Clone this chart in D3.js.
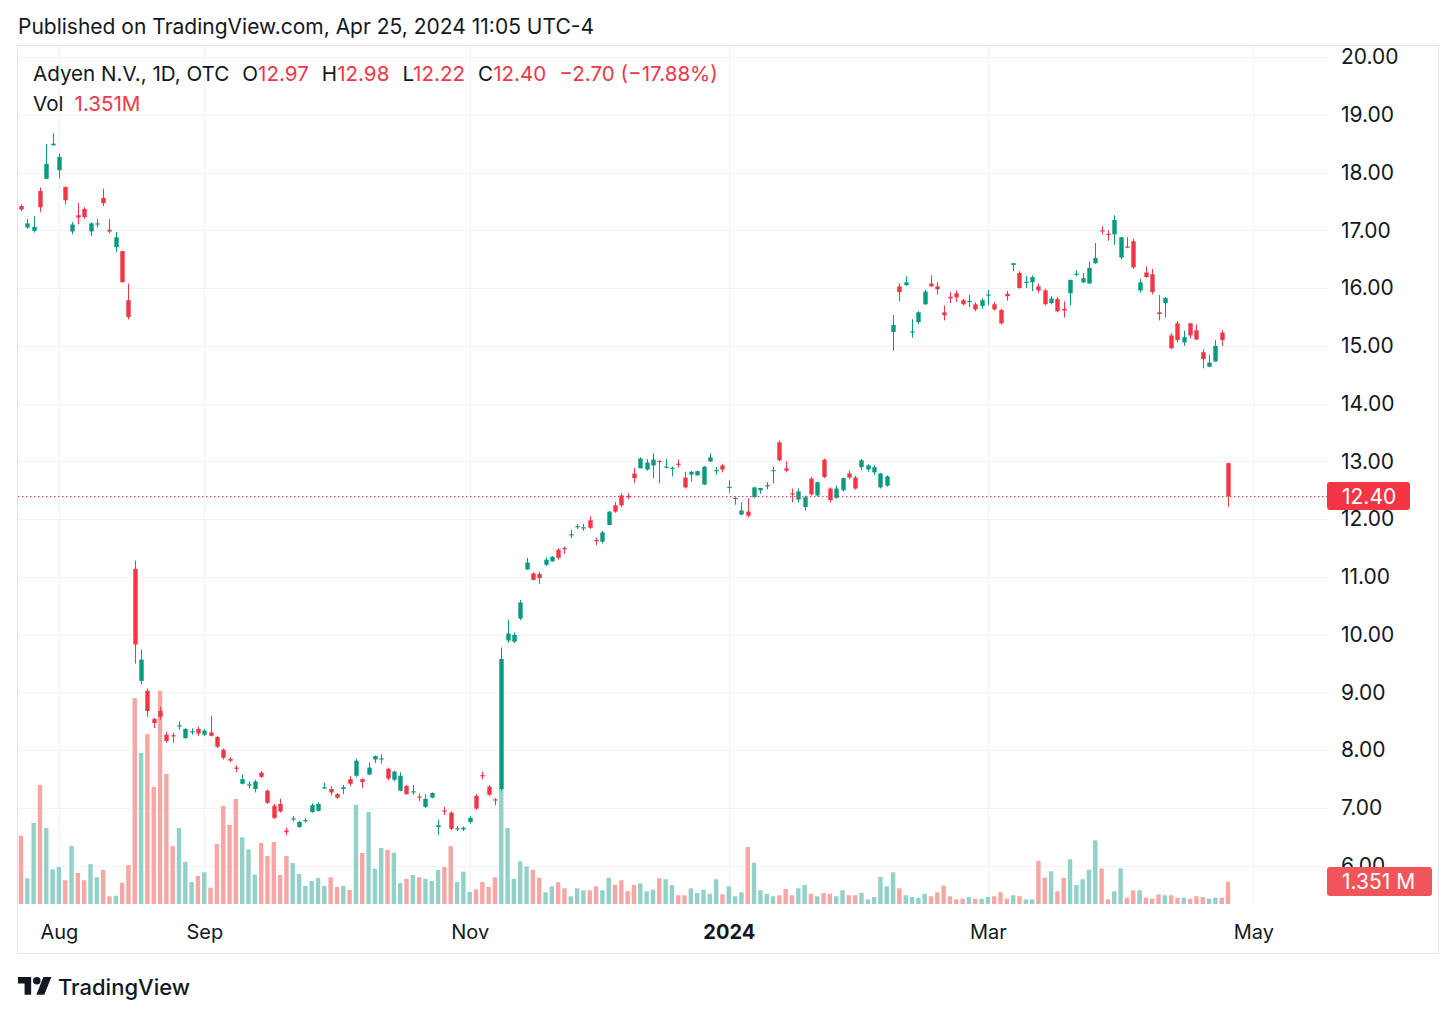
<!DOCTYPE html>
<html><head><meta charset="utf-8">
<script src="https://cdn.jsdelivr.net/npm/d3@7"></script>
<style>
body{margin:0;background:#fff}
svg{display:block}
text{font-family:Inter,"Noto Sans",Roboto,sans-serif}
</style>
</head><body>
<svg id="c" width="1456" height="1016"></svg>
<script>
// ---------- DATA ----------
const dates = [
"2023-07-24","2023-07-25","2023-07-26","2023-07-27","2023-07-28","2023-07-31",
"2023-08-01","2023-08-02","2023-08-03","2023-08-04","2023-08-07","2023-08-08","2023-08-09","2023-08-10","2023-08-11","2023-08-14","2023-08-15","2023-08-16","2023-08-17","2023-08-18","2023-08-21","2023-08-22","2023-08-23","2023-08-24","2023-08-25","2023-08-28","2023-08-29","2023-08-30","2023-08-31",
"2023-09-01","2023-09-05","2023-09-06","2023-09-07","2023-09-08","2023-09-11","2023-09-12","2023-09-13","2023-09-14","2023-09-15","2023-09-18","2023-09-19","2023-09-20","2023-09-21","2023-09-22","2023-09-25","2023-09-26","2023-09-27","2023-09-28","2023-09-29",
"2023-10-02","2023-10-03","2023-10-04","2023-10-05","2023-10-06","2023-10-09","2023-10-10","2023-10-11","2023-10-12","2023-10-13","2023-10-16","2023-10-17","2023-10-18","2023-10-19","2023-10-20","2023-10-23","2023-10-24","2023-10-25","2023-10-26","2023-10-27","2023-10-30","2023-10-31",
"2023-11-01","2023-11-02","2023-11-03","2023-11-06","2023-11-07","2023-11-08","2023-11-09","2023-11-10","2023-11-13","2023-11-14","2023-11-15","2023-11-16","2023-11-17","2023-11-20","2023-11-21","2023-11-22","2023-11-24","2023-11-27","2023-11-28","2023-11-29","2023-11-30",
"2023-12-01","2023-12-04","2023-12-05","2023-12-06","2023-12-07","2023-12-08","2023-12-11","2023-12-12","2023-12-13","2023-12-14","2023-12-15","2023-12-18","2023-12-19","2023-12-20","2023-12-21","2023-12-22","2023-12-26","2023-12-27","2023-12-28","2023-12-29",
"2024-01-02","2024-01-03","2024-01-04","2024-01-05","2024-01-08","2024-01-09","2024-01-10","2024-01-11","2024-01-12","2024-01-16","2024-01-17","2024-01-18","2024-01-19","2024-01-22","2024-01-23","2024-01-24","2024-01-25","2024-01-26","2024-01-29","2024-01-30","2024-01-31",
"2024-02-01","2024-02-02","2024-02-05","2024-02-06","2024-02-07","2024-02-08","2024-02-09","2024-02-12","2024-02-13","2024-02-14","2024-02-15","2024-02-16","2024-02-20","2024-02-21","2024-02-22","2024-02-23","2024-02-26","2024-02-27","2024-02-28","2024-02-29",
"2024-03-01","2024-03-04","2024-03-05","2024-03-06","2024-03-07","2024-03-08","2024-03-11","2024-03-12","2024-03-13","2024-03-14","2024-03-15","2024-03-18","2024-03-19","2024-03-20","2024-03-21","2024-03-22","2024-03-25","2024-03-26","2024-03-27","2024-03-28",
"2024-04-01","2024-04-02","2024-04-03","2024-04-04","2024-04-05","2024-04-08","2024-04-09","2024-04-10","2024-04-11","2024-04-12","2024-04-15","2024-04-16","2024-04-17","2024-04-18","2024-04-19","2024-04-22","2024-04-23","2024-04-24","2024-04-25"
];
const futureDates = ["2024-04-26","2024-04-29","2024-04-30","2024-05-01"];

const opens = [
17.42,17.05,16.99,17.68,17.89,18.47,18.04,17.75,16.98,17.26,17.37,16.98,17.10,17.56,17.01,16.71,16.64,15.79,
11.14,9.20,9.03,8.54,8.68,8.27,8.26,8.41,8.21,8.31,8.37,8.27,8.31,8.23,8.01,7.85,7.70,7.42,7.39,7.33,7.61,7.30,
7.04,7.07,6.61,6.80,6.67,6.77,6.93,6.95,7.34,7.33,7.24,7.33,7.50,7.56,7.50,7.58,7.84,7.84,7.68,7.49,7.30,7.38,
7.27,7.20,7.02,7.18,6.67,6.96,6.92,6.63,6.63,6.76,7.21,7.57,7.37,7.15,7.33,9.90,9.88,10.28,11.13,11.06,11.05,
11.21,11.27,11.47,11.50,11.72,11.86,11.84,11.98,11.64,11.61,11.90,12.24,12.41,12.40,12.79,12.88,12.86,12.93,
13.01,12.89,12.87,12.96,12.72,12.77,12.76,12.60,13.00,12.83,12.93,12.54,12.35,12.08,12.13,12.38,12.50,12.57,
12.83,13.33,12.88,12.45,12.34,12.21,12.70,12.41,13.03,12.53,12.37,12.50,12.79,12.72,12.90,12.86,12.81,12.55,
12.58,15.24,16.03,16.05,15.23,15.41,15.72,16.08,16.03,15.58,15.85,15.91,15.79,15.76,15.72,15.69,15.87,15.72,
15.62,15.90,16.40,16.26,16.09,16.10,16.03,15.96,15.74,15.81,15.64,15.91,16.23,16.10,16.08,16.43,17.00,16.94,
16.93,16.53,16.72,16.81,15.96,16.27,16.24,15.58,15.74,15.18,15.39,15.06,15.39,15.27,14.89,14.64,14.73,15.23,12.97
];
const highs = [
17.45,17.20,17.24,17.74,18.49,18.68,18.33,17.76,17.14,17.47,17.40,17.14,17.20,17.72,17.19,16.97,16.64,16.08,
11.28,9.74,9.07,8.56,8.75,8.32,8.30,8.50,8.38,8.38,8.41,8.37,8.60,8.25,8.03,7.88,7.74,7.58,7.46,7.49,7.64,7.32,
7.07,7.16,6.66,6.86,6.78,6.83,7.08,7.10,7.44,7.38,7.26,7.40,7.55,7.85,7.51,7.79,7.91,7.93,7.70,7.65,7.62,7.40,
7.40,7.25,7.24,7.27,6.80,7.02,6.94,6.69,6.68,6.86,7.24,7.63,7.40,7.17,9.78,10.26,10.04,10.60,11.33,11.08,11.09,
11.34,11.36,11.50,11.53,11.82,11.92,11.92,12.05,11.68,11.80,12.14,12.30,12.45,12.45,12.89,13.07,13.04,13.14,
13.02,13.04,12.91,13.03,12.82,12.84,12.84,12.92,13.14,12.90,12.96,12.67,12.39,12.29,12.36,12.56,12.54,12.64,
12.91,13.36,13.00,12.53,12.53,12.41,12.73,12.65,13.05,12.55,12.58,12.72,12.84,12.75,13.04,12.95,12.93,12.80,
12.76,15.53,16.08,16.20,15.46,15.60,15.97,16.22,16.10,15.70,15.93,15.96,15.81,15.88,15.75,15.82,15.97,15.76,
15.64,15.95,16.43,16.29,16.21,16.22,16.08,15.99,15.86,15.85,15.77,16.15,16.31,16.26,16.46,16.78,17.07,17.00,
17.26,16.88,16.88,16.85,16.16,16.38,16.33,15.88,15.84,15.22,15.43,15.26,15.40,15.37,14.94,14.84,15.10,15.27,12.98
];
const lows = [
17.33,17.03,16.96,17.32,17.89,18.47,17.90,17.45,16.93,17.10,17.20,16.90,17.05,17.42,16.95,16.62,16.10,15.46,
9.50,9.14,8.58,8.38,8.53,8.13,8.13,8.35,8.20,8.27,8.25,8.25,8.24,8.04,7.84,7.79,7.62,7.41,7.34,7.27,7.52,7.07,
6.81,6.92,6.53,6.77,6.66,6.75,6.92,6.94,7.33,7.22,7.16,7.24,7.38,7.54,7.35,7.57,7.78,7.77,7.48,7.46,7.29,7.23,
7.23,7.12,7.00,7.17,6.53,6.88,6.62,6.60,6.60,6.73,6.97,7.50,7.21,7.05,7.30,9.86,9.86,10.25,11.12,10.94,10.88,
11.19,11.26,11.30,11.40,11.67,11.83,11.80,11.83,11.55,11.58,11.90,12.11,12.21,12.35,12.63,12.88,12.84,12.71,
12.62,12.88,12.74,12.89,12.53,12.65,12.75,12.59,12.99,12.77,12.81,12.46,12.25,12.07,12.03,12.37,12.44,12.52,
12.62,13.00,12.81,12.29,12.29,12.15,12.41,12.39,12.71,12.29,12.35,12.48,12.69,12.51,12.85,12.82,12.76,12.53,
12.56,14.92,15.77,16.04,15.14,15.38,15.71,16.02,15.89,15.44,15.74,15.76,15.70,15.67,15.60,15.64,15.70,15.61,
15.37,15.78,16.29,15.99,16.00,15.95,15.92,15.70,15.72,15.58,15.49,15.70,16.20,16.09,16.07,16.42,16.93,16.82,
16.75,16.50,16.69,16.33,15.92,16.18,15.89,15.44,15.49,14.94,15.06,15.00,15.13,15.10,14.61,14.63,14.72,15.00,12.22
];
const closes = [
17.36,17.12,17.06,17.40,18.15,18.50,18.27,17.52,17.10,17.22,17.23,17.12,17.12,17.47,16.98,16.88,16.10,15.50,
9.83,9.57,8.68,8.47,8.58,8.16,8.24,8.43,8.37,8.33,8.29,8.34,8.25,8.06,7.87,7.82,7.68,7.50,7.41,7.46,7.54,7.09,
6.83,6.94,6.58,6.82,6.76,6.79,7.05,7.07,7.36,7.27,7.18,7.36,7.42,7.82,7.45,7.70,7.90,7.86,7.51,7.63,7.56,7.24,
7.29,7.18,7.16,7.26,6.70,6.94,6.64,6.65,6.66,6.83,6.99,7.55,7.23,7.13,9.58,10.02,10.00,10.56,11.25,10.95,10.98,
11.30,11.35,11.33,11.48,11.74,11.88,11.86,11.85,11.62,11.77,12.13,12.13,12.24,12.38,12.71,13.05,12.98,13.03,
12.99,12.91,12.89,12.94,12.55,12.82,12.83,12.91,13.07,12.85,12.86,12.56,12.37,12.15,12.06,12.55,12.54,12.59,
12.85,13.02,12.84,12.43,12.48,12.38,12.43,12.64,12.73,12.33,12.53,12.71,12.72,12.53,13.02,12.93,12.90,12.79,
12.74,15.36,15.93,16.10,15.25,15.58,15.94,16.03,15.98,15.53,15.82,15.84,15.72,15.78,15.63,15.79,15.89,15.63,
15.39,15.86,16.43,16.00,16.11,16.19,15.96,15.72,15.82,15.60,15.61,16.14,16.25,16.17,16.35,16.52,16.98,16.92,
17.18,16.88,16.70,16.36,16.10,16.19,15.93,15.55,15.83,14.96,15.10,15.15,15.18,15.11,14.77,14.71,15.00,15.10,12.40
];
// volume in millions
const volumes = [
4.14,1.56,4.91,7.21,4.61,2.10,2.24,1.44,3.51,1.88,1.44,2.42,1.62,2.06,0.47,0.50,1.29,2.35,
12.48,9.15,10.30,7.09,12.91,7.88,3.51,4.61,2.55,1.33,1.70,1.92,0.99,3.64,5.94,4.79,6.36,4.04,3.31,1.78,3.70,2.91,
3.76,1.76,2.91,2.48,1.82,1.09,1.39,1.58,1.09,1.62,1.03,1.09,0.85,6.00,3.09,5.58,2.14,3.39,3.27,3.11,1.27,1.52,
1.76,1.62,1.52,1.39,2.06,2.24,3.51,1.33,1.96,0.73,0.89,1.33,1.03,1.62,7.03,4.61,1.53,2.59,2.28,2.08,1.59,
0.71,1.07,1.32,0.95,0.47,0.95,0.83,0.83,1.07,0.83,1.59,1.17,1.44,0.77,1.15,1.25,0.77,0.87,
1.56,1.50,1.15,0.53,0.53,0.95,0.67,0.87,0.62,1.50,0.59,1.07,0.47,0.71,3.45,2.50,0.83,0.62,
0.47,0.53,0.91,0.53,0.95,1.15,0.62,0.47,0.67,0.62,0.47,0.83,0.53,0.53,0.67,0.28,0.42,1.64,
1.07,1.92,0.95,0.53,0.42,0.38,0.62,0.47,0.71,1.11,0.47,0.28,0.32,0.42,0.32,0.32,0.42,0.47,
0.71,0.32,0.53,0.47,0.28,0.28,2.61,1.59,1.98,0.77,1.59,2.71,1.15,1.50,2.08,3.86,2.16,0.28,
0.77,2.16,0.38,0.83,0.83,0.38,0.32,0.59,0.53,0.53,0.38,0.38,0.32,0.47,0.42,0.32,0.38,0.38,1.351
];
const priceTicks = [6,7,8,9,10,11,12,13,14,15,16,17,18,19,20];
const timeTickDates = ["2023-08-01","2023-09-01","2023-11-01","2024-01-02","2024-03-01","2024-05-01"];
const timeTickLabels = ["Aug","Sep","Nov","2024","Mar","May"];
const boldTickLabels = ["2024"];
const symbolTitle = "Adyen N.V., 1D, OTC";
const publishedText = "Published on TradingView.com, Apr 25, 2024 11:05 UTC-4";

// ---------- STYLE ----------
const UP = "#089981", DOWN = "#F23645";
const VUP = "#92d1c8", VDOWN = "#f6a7a4";
const TXT = "#131722";
const GRID = "#f0f3fa", BORDER = "#e0e3eb";
const FONT = "Inter, 'Noto Sans', sans-serif";

const svg = d3.select("#c");
const plot = {left:17, right:1328, top:46, bottom:904};

const x = d3.scalePoint().domain(dates.concat(futureDates)).range([21, 1253.3]);
const y = d3.scaleLinear().domain([6, 20]).range([865.8, 57]);
const yv = d3.scaleLinear().domain([0, 14]).range([904, 673]);

// header
svg.append("text").attr("x",18).attr("y",34).attr("font-size",21).attr("fill",TXT).text(publishedText);

// border
svg.append("rect").attr("x",17.5).attr("y",45.5).attr("width",1421).attr("height",908)
  .attr("fill","none").attr("stroke",BORDER);

// grid
const g = svg.append("g");
g.selectAll("line.h").data(priceTicks).join("line")
  .attr("x1",plot.left+1).attr("x2",plot.right)
  .attr("y1",d=>Math.round(y(d))+0.5).attr("y2",d=>Math.round(y(d))+0.5)
  .attr("stroke",GRID);
g.selectAll("line.v").data(timeTickDates).join("line")
  .attr("x1",d=>Math.round(x(d))+0.5).attr("x2",d=>Math.round(x(d))+0.5)
  .attr("y1",plot.top+1).attr("y2",plot.bottom)
  .attr("stroke",GRID);

// volume bars
const idx = d3.range(dates.length);
const isUp = i => closes[i] >= opens[i];
svg.append("g").selectAll("rect").data(idx).join("rect")
  .attr("x",i=>x(dates[i])-2.2).attr("width",4.4)
  .attr("y",i=>yv(volumes[i])).attr("height",i=>yv(0)-yv(volumes[i]))
  .attr("fill",i=>isUp(i)?VUP:VDOWN);

// candles
const cg = svg.append("g");
cg.selectAll("line").data(idx).join("line")
  .attr("x1",i=>Math.round(x(dates[i]))+0.5).attr("x2",i=>Math.round(x(dates[i]))+0.5)
  .attr("y1",i=>y(highs[i])).attr("y2",i=>y(lows[i]))
  .attr("stroke",i=>isUp(i)?UP:DOWN).attr("stroke-width",1);
cg.selectAll("rect").data(idx).join("rect")
  .attr("x",i=>Math.round(x(dates[i]))-1.7).attr("width",4.4)
  .attr("y",i=>y(Math.max(opens[i],closes[i])))
  .attr("height",i=>Math.max(1.2, Math.abs(y(opens[i])-y(closes[i]))))
  .attr("fill",i=>isUp(i)?UP:DOWN);

// last price line
const last = dates.length-1;
svg.append("line").attr("x1",plot.left+1).attr("x2",plot.right)
  .attr("y1",Math.round(y(closes[last]))+0.5).attr("y2",Math.round(y(closes[last]))+0.5)
  .attr("stroke",DOWN).attr("stroke-width",1).attr("stroke-dasharray","1.5,2.5");

// price axis (the lowest label sits partly behind the volume label, as in TradingView)
const ya = svg.append("g").attr("transform",`translate(1341,0)`)
  .call(d3.axisRight(y).tickValues(priceTicks).tickFormat(d3.format(".2f")).tickSize(0).tickPadding(0));
ya.select(".domain").remove();
ya.selectAll("text").attr("font-size",21).attr("fill",TXT).attr("font-family",FONT);

// time axis
const xa = svg.append("g").attr("transform",`translate(0,${plot.bottom})`)
  .call(d3.axisBottom(x).tickValues(timeTickDates).tickFormat((d,i)=>timeTickLabels[i]).tickSize(0).tickPadding(21));
xa.select(".domain").remove();
xa.selectAll("text").attr("font-size",20).attr("fill",TXT).attr("font-family",FONT)
  .attr("font-weight",(d,i)=>boldTickLabels.includes(timeTickLabels[i])?700:400);

// last price label
const fmt2 = d3.format(".2f");
const ly = y(closes[last]);
svg.append("rect").attr("x",1327).attr("y",ly-14).attr("width",83).attr("height",28).attr("rx",3).attr("fill",DOWN);
svg.append("text").attr("x",1342).attr("y",ly+7.5).attr("font-size",21).attr("fill","#fff").text(fmt2(closes[last]));

// volume label
svg.append("rect").attr("x",1327).attr("y",867).attr("width",105).attr("height",29).attr("rx",3).attr("fill","#f0555a");
svg.append("text").attr("x",1342).attr("y",888.5).attr("font-size",21).attr("fill","#fff")
  .text(d3.format(".3f")(volumes[last]) + " M");

// legend
const chg = closes[last]-closes[last-1];
const pct = chg/closes[last-1]*100;
const minus = v => (v<0?"\u2212":"") + fmt2(Math.abs(v));
const leg = svg.append("text").attr("x",33).attr("y",81).attr("font-size",20.6).attr("fill",TXT);
leg.append("tspan").text(symbolTitle);
const parts = [["O",opens[last]],["H",highs[last]],["L",lows[last]],["C",closes[last]]];
parts.forEach(p=>{
  leg.append("tspan").attr("dx",13).attr("fill",TXT).text(p[0]);
  leg.append("tspan").attr("fill",DOWN).text(fmt2(p[1]));
});
leg.append("tspan").attr("dx",13).attr("fill",DOWN).text(`${minus(chg)} (${minus(pct)}%)`);
const leg2 = svg.append("text").attr("x",33).attr("y",111).attr("font-size",20.6).attr("fill",TXT);
leg2.append("tspan").text("Vol");
leg2.append("tspan").attr("dx",11).attr("fill",DOWN).text(d3.format(".3f")(volumes[last])+"M");

// footer logo
const logo = svg.append("g").attr("transform","translate(18,977) scale(0.94)").attr("fill",TXT);
logo.append("path").attr("d","M0 0 H14 V19 H7 V7 H0 Z");
logo.append("circle").attr("cx",20).attr("cy",4).attr("r",4);
logo.append("path").attr("d","M19.5 19 L27 0 H35.5 L28 19 Z");
svg.append("text").attr("x",58).attr("y",995).attr("font-size",22).attr("font-weight",500).attr("fill",TXT).text("TradingView");
</script>
</body></html>
